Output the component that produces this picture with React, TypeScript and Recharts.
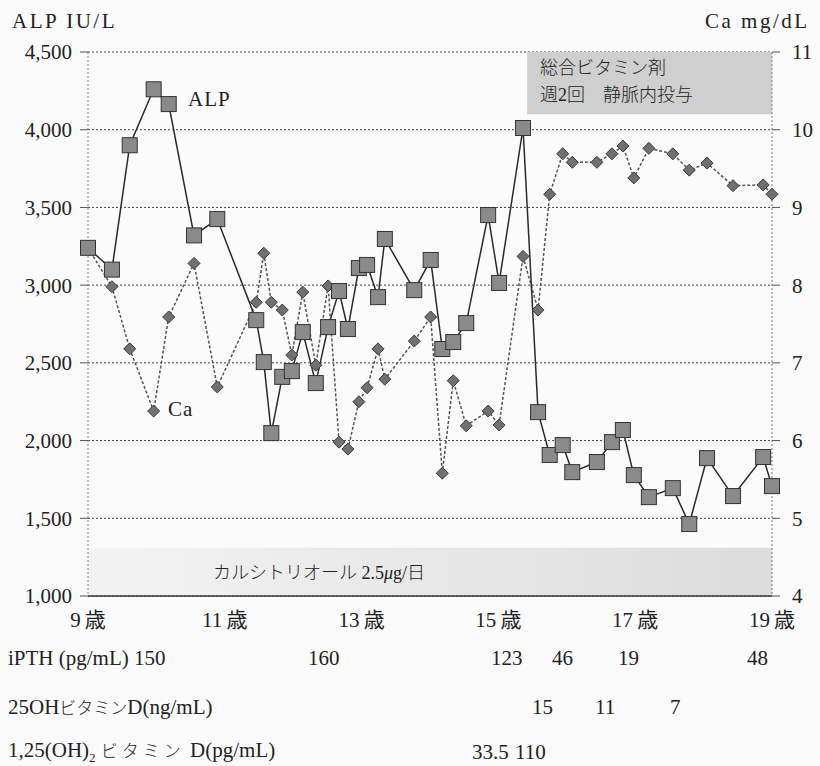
import React from 'react';
import {
  LineChart,
  Line,
  XAxis,
  YAxis,
  CartesianGrid,
  ReferenceArea,
} from 'recharts';

// age (years) of each visit
const ages = [
  9.0, 9.35, 9.61, 9.96, 10.18, 10.55, 10.89, 11.46, 11.57, 11.68, 11.84, 11.98,
  12.14, 12.33, 12.51, 12.67, 12.8, 12.96, 13.08, 13.24, 13.34, 13.77, 14.01,
  14.18, 14.34, 14.53, 14.85, 15.01, 15.36, 15.58, 15.75, 15.94, 16.08, 16.44,
  16.66, 16.82, 16.98, 17.2, 17.55, 17.79, 18.05, 18.43, 18.87, 19.0,
];

// ALP IU/L
const alpValues = [
  3240, 3100, 3900, 4260, 4165, 3320, 3425, 2775, 2505, 2048, 2410, 2447, 2698,
  2370, 2730, 2962, 2718, 3110, 3130, 2923, 3297, 2968, 3162, 2589, 2634, 2756,
  3451, 3014, 4011, 2183, 1907, 1971, 1797, 1862, 1990, 2068, 1778, 1636, 1694,
  1463, 1887, 1643, 1894, 1707,
];

// Ca mg/dL
const caValues = [
  8.48, 7.98, 7.18, 6.38, 7.59, 8.28, 6.69, 7.78, 8.41, 7.78, 7.68, 7.1, 7.91,
  6.97, 7.99, 5.98, 5.89, 6.5, 6.68, 7.18, 6.79, 7.28, 7.59, 5.58, 6.77, 6.19,
  6.38, 6.2, 8.37, 7.68, 9.17, 9.69, 9.58, 9.58, 9.69, 9.79, 9.38, 9.76, 9.69,
  9.48, 9.57, 9.28, 9.29, 9.17,
];

const ageTicks = [9, 11, 13, 15, 17, 19];
const alpTicks = [1000, 1500, 2000, 2500, 3000, 3500, 4000, 4500];
const caTicks = [4, 5, 6, 7, 8, 9, 10, 11];

// lab table below the chart
const ipthRow = [
  { x: 134, v: '150' },
  { x: 308, v: '160' },
  { x: 491, v: '123' },
  { x: 552, v: '46' },
  { x: 618, v: '19' },
  { x: 747, v: '48' },
];
const vitD25Row = [
  { x: 532, v: '15' },
  { x: 595, v: '11' },
  { x: 670, v: '7' },
];
const vitD125Row = [
  { x: 472, v: '33.5' },
  { x: 515, v: '110' },
];

const data = ages.map((age, i) => ({ age, alp: alpValues[i], ca: caValues[i] }));

const FONT = "'Liberation Serif', 'Noto Sans CJK JP', serif";
const INK = '#222';

const AlpDot = (p: any) => {
  const { cx, cy, index } = p;
  if (cx == null || cy == null) return null;
  return (
    <rect
      key={`alp-${index}`}
      x={cx - 7.5}
      y={cy - 7.5}
      width={15}
      height={15}
      fill="#8a8a8a"
      stroke="#333"
      strokeWidth={1}
    />
  );
};

const CaDot = (p: any) => {
  const { cx, cy, index } = p;
  if (cx == null || cy == null) return null;
  const r = 6;
  return (
    <polygon
      key={`ca-${index}`}
      points={`${cx},${cy - r} ${cx + r},${cy} ${cx},${cy + r} ${cx - r},${cy}`}
      fill="#707070"
      stroke="#3a3a3a"
      strokeWidth={1}
    />
  );
};

const Txt = ({
  x,
  y,
  size = 21,
  spacing = 0,
  weight = 400,
  children,
}: {
  x: number;
  y: number;
  size?: number;
  spacing?: number;
  weight?: number;
  children: React.ReactNode;
}) => (
  <div
    style={{
      position: 'absolute',
      left: x,
      top: y,
      transform: 'translateY(-50%)',
      fontSize: size,
      letterSpacing: spacing,
      fontWeight: weight,
      lineHeight: 1,
      whiteSpace: 'nowrap',
      color: INK,
    }}
  >
    {children}
  </div>
);

export default function App() {
  return (
    <div
      style={{
        position: 'absolute',
        left: 0,
        top: 0,
        width: 820,
        height: 766,
        background: '#fbfbfb',
        fontFamily: FONT,
        overflow: 'hidden',
      }}
    >
      <LineChart width={820} height={640} data={data} margin={{ top: 52, right: 0, left: 20, bottom: 0 }}>
        <defs>
          <linearGradient id="bandFill" x1="0" y1="0" x2="1" y2="0">
            <stop offset="0%" stopColor="#f3f3f3" />
            <stop offset="100%" stopColor="#dcdcdc" />
          </linearGradient>
        </defs>
        <ReferenceArea yAxisId="left" x1={15.42} x2={19} y1={4100} y2={4500} fill="#cfcfcf" fillOpacity={1} stroke="none" />
        <ReferenceArea yAxisId="left" x1={9} x2={19} y1={1000} y2={1310} fill="url(#bandFill)" fillOpacity={1} stroke="none" />
        <CartesianGrid yAxisId="left" vertical={false} stroke="#444" strokeDasharray="2 2" />
        <XAxis
          dataKey="age"
          type="number"
          domain={[9, 19]}
          ticks={ageTicks}
          tickFormatter={(v: number) => `${v}\u2009歳`}
          tickLine={false}
          tickMargin={10}
          axisLine={{ stroke: '#333', strokeWidth: 1.5 }}
          tick={{ fill: INK, fontSize: 21, fontFamily: FONT }}
          height={44}
        />
        <YAxis
          yAxisId="left"
          domain={[1000, 4500]}
          ticks={alpTicks}
          tickFormatter={(v: number) => v.toLocaleString('en-US')}
          width={68}
          tickSize={8}
          tickMargin={8}
          tickLine={{ stroke: '#555' }}
          axisLine={{ stroke: '#888', strokeDasharray: '2 2' }}
          tick={{ fill: INK, fontSize: 21, fontFamily: FONT }}
        />
        <YAxis
          yAxisId="right"
          orientation="right"
          domain={[4, 11]}
          ticks={caTicks}
          width={48}
          tickSize={8}
          tickMargin={12}
          tickLine={{ stroke: '#555' }}
          axisLine={{ stroke: '#777', strokeDasharray: '2 2' }}
          tick={{ fill: INK, fontSize: 21, fontFamily: FONT }}
        />
        <Line
          yAxisId="right"
          dataKey="ca"
          stroke="#555"
          strokeWidth={1.5}
          strokeDasharray="3 2"
          dot={CaDot}
          activeDot={false}
          isAnimationActive={false}
        />
        <Line
          yAxisId="left"
          dataKey="alp"
          stroke="#2a2a2a"
          strokeWidth={1.5}
          dot={AlpDot}
          activeDot={false}
          isAnimationActive={false}
        />
      </LineChart>

      {/* axis titles */}
      <Txt x={12} y={21} spacing={2.5}>ALP IU/L</Txt>
      <Txt x={705} y={21} spacing={2.5}>Ca mg/dL</Txt>

      {/* series labels */}
      <Txt x={188} y={99} spacing={1}>ALP</Txt>
      <Txt x={168} y={409} spacing={1}>Ca</Txt>

      {/* treatment notes */}
      <Txt x={540} y={68} size={18} weight={300}>総合ビタミン剤</Txt>
      <Txt x={540} y={95} size={18} weight={300}>週2回　静脈内投与</Txt>
      <Txt x={213} y={573} size={18} weight={300}>
        カルシトリオール 2.5<i>μ</i>g/日
      </Txt>

      {/* lab values */}
      <Txt x={8} y={658}>iPTH (pg/mL)</Txt>
      {ipthRow.map((c) => (
        <Txt key={`p${c.x}`} x={c.x} y={658}>{c.v}</Txt>
      ))}
      <Txt x={8} y={707}>
        25OH<span style={{ fontSize: 17, fontWeight: 300 }}>ビタミン</span>D(ng/mL)
      </Txt>
      {vitD25Row.map((c) => (
        <Txt key={`d${c.x}`} x={c.x} y={707}>{c.v}</Txt>
      ))}
      <Txt x={8} y={752}>
        1,25(OH)<sub style={{ fontSize: 13 }}>2</sub>{' '}
        <span style={{ fontSize: 17, fontWeight: 300, letterSpacing: 4 }}>ビタミン</span> D(pg/mL)
      </Txt>
      {vitD125Row.map((c) => (
        <Txt key={`e${c.x}`} x={c.x} y={752}>{c.v}</Txt>
      ))}
    </div>
  );
}
